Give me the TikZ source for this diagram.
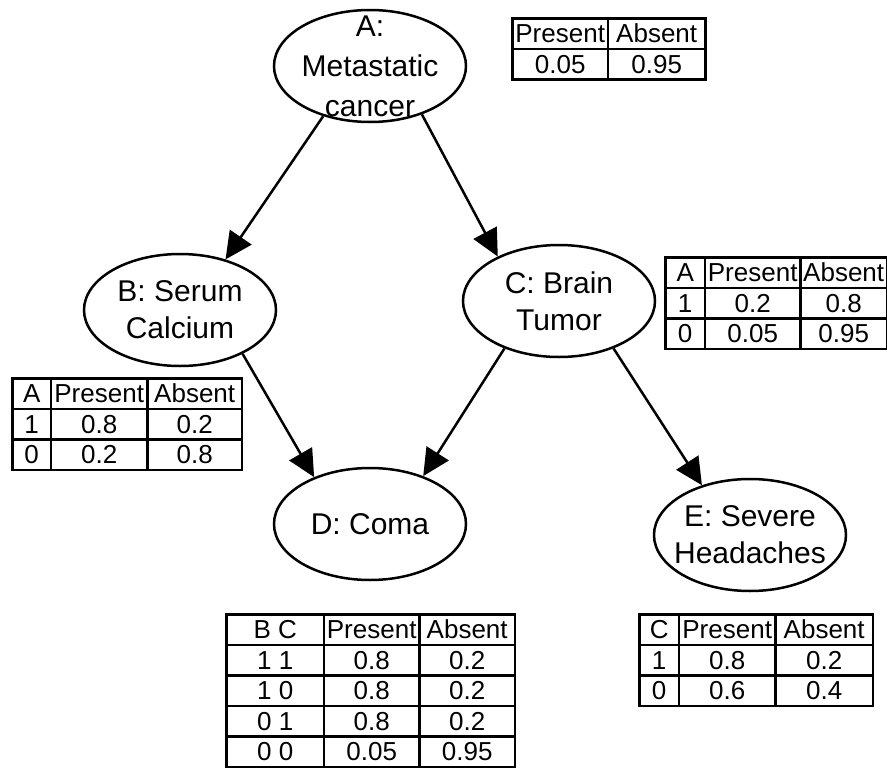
\documentclass[tikz,border=0pt]{standalone}
\usepackage{fontspec}
\setmainfont{Liberation Sans}
\usepackage{array}
\usepackage{tikz}
\usetikzlibrary{shapes,shapes.geometric,arrows.meta,positioning}

\newcolumntype{C}[1]{>{\centering\arraybackslash}p{#1}}
\setlength{\arrayrulewidth}{2.5pt}
\setlength{\tabcolsep}{0pt}
\setlength{\extrarowheight}{12pt}

\begin{document}
\begin{tikzpicture}[x=1pt,y=-1pt]
  \tikzstyle{varnode}=[ellipse, draw, line width=2.5pt, minimum width=192pt, minimum height=112pt, inner sep=0pt]
  \tikzstyle{vartext}=[align=center, inner sep=0pt, font=\fontsize{30}{37}\selectfont]
  \tikzstyle{cpt}=[anchor=north west, inner sep=0pt, font=\fontsize{26}{16}\selectfont]
  \tikzstyle{leadsto}=[-{Triangle[length=27pt,width=26pt]}, line width=2.5pt]

  \useasboundingbox (0,0) rectangle (887,774);

  % = the five variables =
  \node[varnode] (cancer) at (370,66) {};
  \node[vartext, font=\fontsize{30}{40}\selectfont] (cancertext) at (cancer) {A:\\Metastatic\\cancer};

  \node[varnode] (calcium) at (180,310) {};
  \node[vartext] (calciumtext) at (calcium) {B: Serum\\Calcium};

  \node[varnode] (tumor) at (559,301) {};
  \node[vartext] (tumortext) at (tumor) {C: Brain\\Tumor};

  \node[varnode] (coma) at (370,524) {};
  \node[vartext] (comatext) at (coma) {D: Coma};

  \node[varnode] (headaches) at (750,535) {};
  \node[vartext] (headachestext) at (headaches) {E: Severe\\Headaches};

  % = dependencies =
  \draw[leadsto] (cancer.227) -- (calcium.48);
  \draw[leadsto] (cancer.317) -- (tumor.144);
  \draw[leadsto] (calcium.325) -- (coma.140);
  \draw[leadsto] (tumor.221) -- (coma.42);
  \draw[leadsto] (tumor.319) -- (headaches.134);

  % = probability tables =
  \node[cpt] (cancertable) at (511,17) {%
    \begin{tabular}{|C{93pt}|C{95pt}|}\hline
      Present & Absent\\\hline
      0.05 & 0.95\\\hline
    \end{tabular}};

  \node[cpt] (calciumtable) at (11,377) {%
    \begin{tabular}{|C{36pt}|C{94pt}|C{92pt}|}\hline
      A & Present & Absent\\\hline
      1 & 0.8 & 0.2\\\hline
      0 & 0.2 & 0.8\\\hline
    \end{tabular}};

  \node[cpt] (tumortable) at (664,256) {%
    \begin{tabular}{|C{37pt}|C{93pt}|C{84pt}|}\hline
      A & Present & Absent\\\hline
      1 & 0.2 & 0.8\\\hline
      0 & 0.05 & 0.95\\\hline
    \end{tabular}};

  \node[cpt] (comatable) at (225,613) {%
    \begin{tabular}{|C{95pt}|C{93pt}|C{93pt}|}\hline
      B C & Present & Absent\\\hline
      1 1 & 0.8 & 0.2\\\hline
      1 0 & 0.8 & 0.2\\\hline
      0 1 & 0.8 & 0.2\\\hline
      0 0 & 0.05 & 0.95\\\hline
    \end{tabular}};

  \node[cpt] (headachestable) at (638,613) {%
    \begin{tabular}{|C{37pt}|C{94pt}|C{95pt}|}\hline
      C & Present & Absent\\\hline
      1 & 0.8 & 0.2\\\hline
      0 & 0.6 & 0.4\\\hline
    \end{tabular}};
\end{tikzpicture}
\end{document}
